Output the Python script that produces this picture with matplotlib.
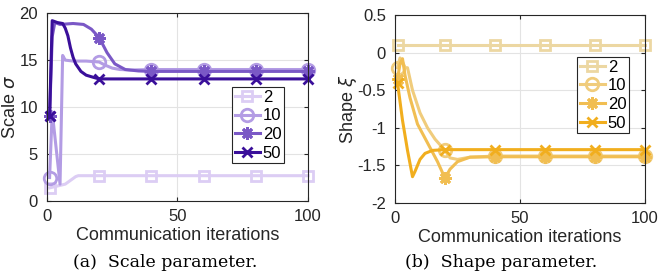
import matplotlib
matplotlib.use('Agg')
import matplotlib.pyplot as plt
from matplotlib.ticker import FuncFormatter

plt.rcParams['font.family'] = ['Liberation Sans', 'DejaVu Sans']
plt.rcParams['axes.unicode_minus'] = False

# marker positions (iterations) shared by all curves
MARK_X = [1, 20, 40, 60, 80, 100]
LABELS = ['2', '10', '20', '50']

# (a) scale parameter sigma
scale_x = {
    '2':  [1, 4, 7, 9, 11, 12, 20, 40, 60, 80, 100],
    '10': [1, 2, 5, 6, 7, 10, 15, 20, 22, 25, 28, 32, 40, 60, 80, 100],
    '20': [1, 2, 3, 5, 10, 14, 17, 20, 23, 26, 30, 35, 40, 60, 80, 100],
    '50': [1, 2, 4, 6, 7, 8, 9, 10, 11, 13, 15, 18, 20, 40, 60, 80, 100],
}
scale_y = {
    '2':  [1.4, 1.6, 1.8, 2.2, 2.6, 2.7, 2.7, 2.7, 2.7, 2.7, 2.7],
    '10': [2.5, 9.5, 1.8, 15.5, 15.0, 14.9, 14.9, 14.8, 14.5, 14.15, 14.0, 13.95, 14.0, 14.0, 14.0, 14.0],
    '20': [9.0, 17.5, 19.0, 18.8, 18.9, 18.8, 18.3, 17.4, 15.8, 14.6, 14.0, 13.85, 13.8, 13.8, 13.8, 13.8],
    '50': [9.0, 19.2, 19.0, 18.9, 18.4, 17.6, 16.3, 15.3, 14.6, 13.8, 13.4, 13.15, 13.0, 13.0, 13.0, 13.0, 13.0],
}

# (b) shape parameter xi
shape_x = {
    '2':  [1, 20, 40, 60, 80, 100],
    '10': [1, 2, 3, 4, 5, 7, 10, 13, 16, 20, 22, 25, 30, 40, 60, 80, 100],
    '20': [1, 2, 3, 4, 6, 9, 13, 17, 20, 22, 25, 30, 40, 60, 80, 100],
    '50': [1, 2, 3, 5, 7, 8, 10, 12, 15, 20, 40, 60, 80, 100],
}
shape_y = {
    '2':  [0.1, 0.1, 0.1, 0.1, 0.1, 0.1],
    '10': [-0.2, -0.07, -0.12, -0.2, -0.2, -0.5, -0.8, -1.0, -1.15, -1.3, -1.4, -1.42, -1.39, -1.375, -1.375, -1.375, -1.375],
    '20': [-0.35, -0.15, -0.08, -0.3, -0.6, -0.95, -1.2, -1.45, -1.67, -1.55, -1.45, -1.39, -1.385, -1.385, -1.385, -1.385],
    '50': [-0.4, -0.65, -0.9, -1.3, -1.65, -1.58, -1.42, -1.34, -1.3, -1.29, -1.29, -1.29, -1.29, -1.29],
}

purples = ['#dccdf4', '#b39ce4', '#7a58c6', '#3a0f9a']
golds = ['#ecd7a2', '#f0cc7c', '#f1be52', '#f1ae1e']
markers = ['s', 'o', (8, 2, 0), 'x']
msizes = [7, 9, 9, 7]


def dibujar(ax, xs, ys, colores, ylim, yticks, ylabel, ylab_x, leg_anchor):
    for lab, c, m, ms in zip(LABELS, colores, markers, msizes):
        x = xs[lab]
        idx = [i for i, v in enumerate(x) if v in MARK_X]
        ax.plot(x, ys[lab], color=c, lw=2.2, marker=m, markevery=idx, ms=ms,
                mfc='none' if m in ('s', 'o') else c, mec=c, mew=2, label=lab,
                clip_on=False)
    ax.set_xlim(0, 100)
    ax.set_ylim(*ylim)
    ax.set_xticks([0, 50, 100])
    ax.set_yticks(yticks)
    ax.yaxis.set_major_formatter(FuncFormatter(lambda v, p: '%g' % v))
    ax.grid(True, color='#e3e3e3', lw=0.8)
    ax.set_axisbelow(True)
    ax.tick_params(direction='in', length=3, width=0.8, colors='#262626',
                   labelsize=12, top=True, right=True)
    ax.tick_params(axis='x', pad=6)
    ax.tick_params(axis='y', pad=6.5)
    for s in ax.spines.values():
        s.set_color('#262626')
        s.set_linewidth(0.8)
    ax.set_xlabel('Communication iterations', fontsize=13, labelpad=2, color='#262626')
    ax.set_ylabel(ylabel, fontsize=13, color='#262626')
    ax.yaxis.set_label_coords(ylab_x, 0.5)
    leg = ax.legend(loc='upper left', bbox_to_anchor=leg_anchor, fontsize=12,
                    handlelength=1.5, handletextpad=0.2, labelspacing=0.22,
                    borderpad=0.15, borderaxespad=0, fancybox=False,
                    edgecolor='#262626', framealpha=1)
    leg.get_frame().set_linewidth(0.8)


fig = plt.figure(figsize=(6.59, 2.8), dpi=100)
ax1 = fig.add_axes([0.0713, 0.282, 0.396, 0.671])
ax2 = fig.add_axes([0.5994, 0.275, 0.3794, 0.671])

dibujar(ax1, scale_x, scale_y, purples, (0, 20), [0, 5, 10, 15, 20],
        r'Scale $\sigma$', -0.106, (0.709, 0.606))
dibujar(ax2, shape_x, shape_y, golds, (-2, 0.5), [-2, -1.5, -1, -0.5, 0, 0.5],
        r'Shape $\xi$', -0.145, (0.728, 0.777))

fig.text(0.25, 0.061, '(a)  Scale parameter.', ha='center', va='center',
         fontsize=12.5, family='DejaVu Serif')
fig.text(0.760, 0.061, '(b)  Shape parameter.', ha='center', va='center',
         fontsize=12.5, family='DejaVu Serif')

fig.savefig('out.png', dpi=100)
